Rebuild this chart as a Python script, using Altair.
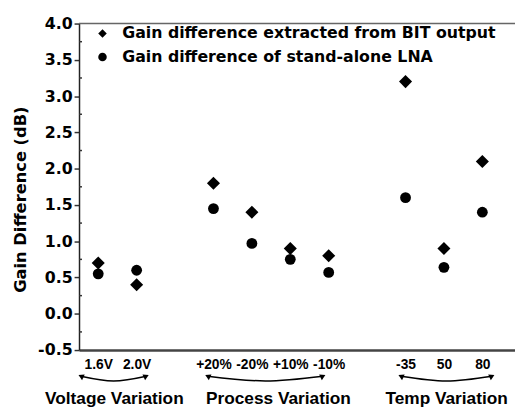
import altair as alt
import pandas as pd

# ---- data ----
tick_labels = ["1.6V", "2.0V", "+20%", "-20%", "+10%", "-10%", "-35", "50", "80"]
positions = [1, 2, 4, 5, 6, 7, 9, 10, 11]
bit_values = [0.7, 0.4, 1.8, 1.4, 0.9, 0.8, 3.2, 0.9, 2.1]
lna_values = [0.55, 0.6, 1.45, 0.97, 0.75, 0.57, 1.6, 0.64, 1.4]
series_names = ["Gain difference extracted from BIT output",
                "Gain difference of stand-alone LNA"]

group_names = ["Voltage Variation", "Process Variation", "Temp Variation"]
group_centers = [1.42, 5.69, 10.07]
arrow_starts = [0.55, 3.85, 8.88]
arrow_ends = [2.25, 6.85, 11.25]

y_ticks = [-0.5, 0.0, 0.5, 1.0, 1.5, 2.0, 2.5, 3.0, 3.5, 4.0]
y_minor = [-0.25, 0.25, 0.75, 1.25, 1.75, 2.25, 2.75, 3.25, 3.75]

# ---- layout ----
W, H = 442, 331
X_DOMAIN = [0.5, 11.85]
Y_DOMAIN = [-0.5, 4.0]
BOLD = "DejaVu Sans"
ARIAL = "Liberation Sans"

rows = []
for p, b, l in zip(positions, bit_values, lna_values):
    rows.append({"pos": p, "value": b, "series": series_names[0], "kind": "bit"})
    rows.append({"pos": p, "value": l, "series": series_names[1], "kind": "lna"})
points_df = pd.DataFrame(rows)

label_expr = " : ".join(f"datum.value == {p} ? '{t}'" for p, t in zip(positions, tick_labels)) + " : ''"
y_label_expr = "datum.value < 0 ? '-' + format(-datum.value, '.1f') : format(datum.value, '.1f')"

xs = alt.Scale(domain=X_DOMAIN, nice=False, zero=False)
ys = alt.Scale(domain=Y_DOMAIN, nice=False, zero=False)

x_axis = alt.Axis(values=positions, labelExpr=label_expr, ticks=False, grid=False,
                  title=None, domainColor="#444", domainWidth=2.5,
                  labelFont=ARIAL, labelFontWeight="bold", labelFontSize=14,
                  labelColor="black", labelPadding=8, labelOverlap=False,
                  labelFlush=False, labelBound=False)
y_axis = alt.Axis(values=y_ticks, labelExpr=y_label_expr, grid=False, tickSize=5, tickWidth=1.5,
                  tickColor="#333", domainColor="#222", domainWidth=1.5,
                  labelFont=BOLD, labelFontWeight="bold", labelFontSize=16,
                  labelColor="black", labelPadding=2, labelFlush=False,
                  labelOverlap=False,
                  title="Gain Difference (dB)", titleFont=BOLD, titleFontWeight="bold",
                  titleFontSize=16.5, titleColor="black", titleX=-59, titleY=178,
                  titleAngle=270, titleAlign="center", titleBaseline="middle")


def X(field):
    return alt.X(field, scale=xs, axis=x_axis)


def Y(field):
    return alt.Y(field, scale=ys, axis=y_axis)


points = alt.Chart(points_df).mark_point(filled=True, color="black", opacity=1).encode(
    x=X("pos:Q"),
    y=Y("value:Q"),
    shape=alt.Shape("series:N", sort=series_names,
                    scale=alt.Scale(domain=series_names, range=["diamond", "circle"]),
                    legend=alt.Legend(orient="none", legendX=15.8, legendY=2, title=None,
                                      symbolSize=75, symbolFillColor="black",
                                      symbolStrokeColor="black", labelFont=BOLD,
                                      labelFontWeight="bold", labelFontSize=16,
                                      labelColor="black", labelLimit=0, labelOffset=12,
                                      rowPadding=8, padding=0)),
    size=alt.Size("kind:N", scale=alt.Scale(domain=["bit", "lna"], range=[175, 120]),
                  legend=None),
)

# minor ticks (inside)
minor = alt.Chart(pd.DataFrame({"y": y_minor})).mark_rule(color="#333", strokeWidth=1.5).encode(
    y=Y("y:Q"),
    x=alt.value(0), x2=alt.value(3),
)

# top frame line
top = alt.Chart(pd.DataFrame({"y": [Y_DOMAIN[1]]})).mark_rule(color="#666", strokeWidth=1.5).encode(
    y=Y("y:Q"),
    x=alt.value(0), x2=alt.value(W),
)

# curved arrows under tick labels
Y_END, Y_MID = -0.86, -0.925
arc_rows, head_rows = [], []
for g, s, e in zip(group_names, arrow_starts, arrow_ends):
    arc_rows += [{"g": g, "x": s, "y": Y_END, "o": 0},
                 {"g": g, "x": (s + e) / 2, "y": Y_MID, "o": 1},
                 {"g": g, "x": e, "y": Y_END, "o": 2}]
    head_rows += [{"x": s, "y": Y_END, "a": 295}, {"x": e, "y": Y_END, "a": 65}]
arcs = alt.Chart(pd.DataFrame(arc_rows)).mark_line(interpolate="natural", color="black",
                                                    strokeWidth=1.5).encode(
    x=X("x:Q"),
    y=Y("y:Q"),
    detail="g:N", order="o:Q",
)
heads = alt.Chart(pd.DataFrame(head_rows)).mark_point(shape="triangle-up", filled=True,
                                                      color="black", opacity=1, size=40).encode(
    x=X("x:Q"),
    y=Y("y:Q"),
    angle=alt.Angle("a:Q", scale=None),
)

groups = alt.Chart(pd.DataFrame({"x": group_centers, "t": group_names,
                                 "y": [-1.18] * 3})).mark_text(
    font=ARIAL, fontWeight="bold", fontSize=17.5, color="black", baseline="middle",
    align="center").encode(
    x=X("x:Q"),
    y=Y("y:Q"),
    text="t:N",
)

chart = alt.layer(points, top, minor, arcs, heads, groups).properties(
    width=W, height=H,
    autosize=alt.AutoSizeParams(type="none"),
    padding={"left": 72, "top": 13, "right": 0, "bottom": 58},
).configure_view(stroke=None)

chart.save("out.html", embed_options={"renderer": "svg", "actions": False})
